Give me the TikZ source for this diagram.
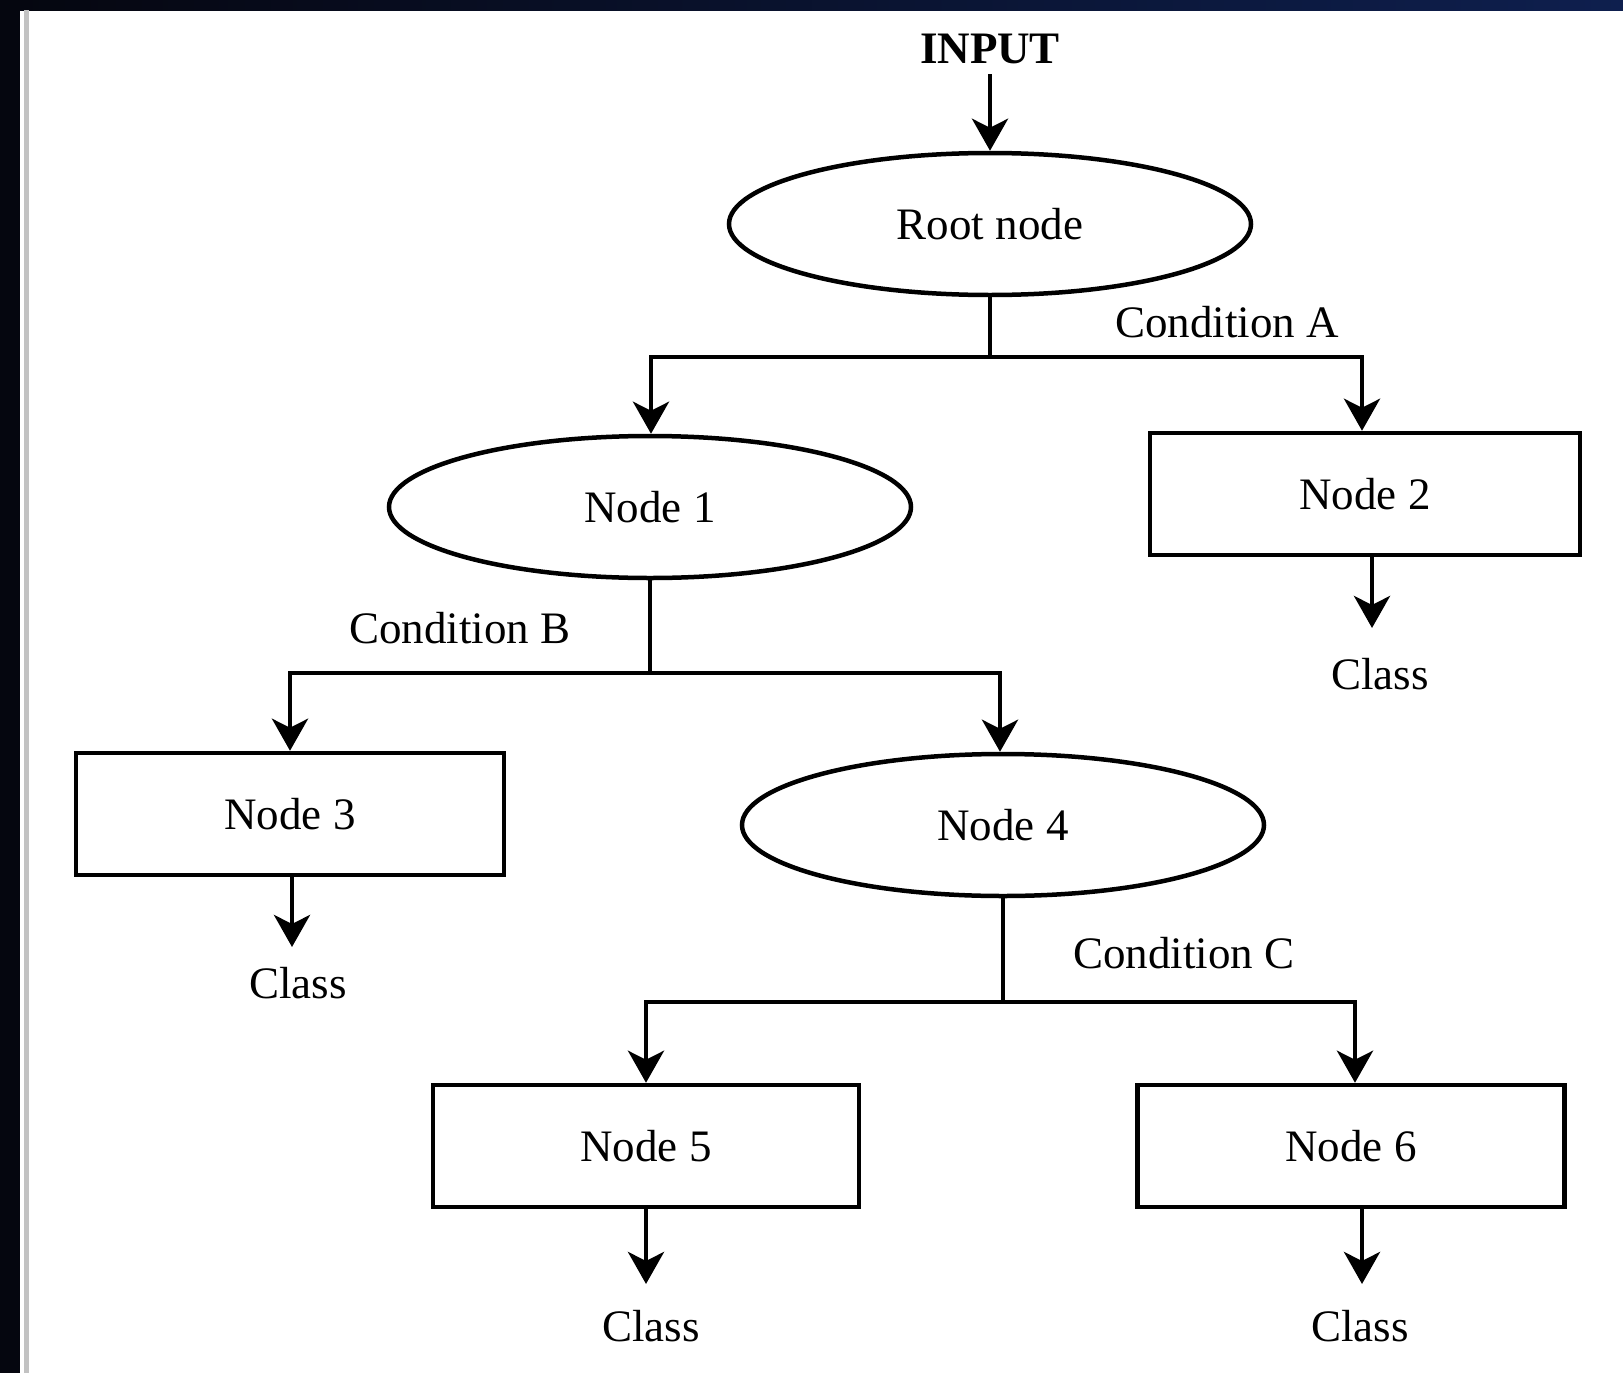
\documentclass[tikz,border=0pt]{standalone}
\usepackage{fontspec}
\setmainfont{Liberation Serif}
\usetikzlibrary{shapes.geometric,arrows.meta}
\definecolor{bandL}{HTML}{05060F}
\definecolor{bandR}{HTML}{0E1F4E}
\begin{document}
\begin{tikzpicture}[x=1pt,y=-1pt,
  every node/.style={font=\fontsize{45}{50}\selectfont, inner sep=0pt},
  oval/.style={draw, ellipse, line width=4.5pt, minimum width=522pt, minimum height=142pt},
  boxnode/.style={draw, rectangle, line width=4.5pt, minimum width=428pt, minimum height=122pt},
  conn/.style={line width=4.5pt},
  arr/.style={line width=4.5pt, -{Stealth[length=32pt,width=36pt,inset=9pt]}}
]
\useasboundingbox (0,0) rectangle (1623,1373);
% background and frame
\fill[white] (0,0) rectangle (1623,1373);
\shade[left color=bandL, right color=bandR] (0,0) rectangle (1623,10);
\fill[bandL] (0,0) rectangle (20,1373);
\fill[black!24] (24,10) rectangle (29,1373);

% nodes
\node[font=\bfseries\fontsize{45}{50}\selectfont] (inp) at (990,49) {INPUT};
\node[oval] (root) at (990,224) {Root node};
\node[oval] (n1) at (650,507) {Node 1};
\node[boxnode, minimum width=430pt] (n2) at (1365,494) {Node 2};
\node[boxnode] (n3) at (290,814) {Node 3};
\node[oval] (n4) at (1003,825) {Node 4};
\node[boxnode, minimum width=426pt] (n5) at (646,1146) {Node 5};
\node[boxnode, minimum width=427pt] (n6) at (1351,1146) {Node 6};

\node (c2) at (1380,674) {Class};
\node (c3) at (298,983) {Class};
\node (c5) at (651,1326) {Class};
\node (c6) at (1360,1326) {Class};

\node (ca) at (1227,322) {Condition A};
\node (cb) at (460,628) {Condition B};
\node (cc) at (1184,953) {Condition C};

% junctions
\coordinate (jA) at (root.south |- 0,357);
\coordinate (jB) at (n1.south |- 0,673);
\coordinate (jC) at (n4.south |- 0,1002);

% connectors
\draw[arr] (inp.south) ++(0,10) -- (root.north);
\draw[conn] (root.south) -- (jA);
\draw[arr] (jA) -| ([xshift=1pt]n1.north);
\draw[arr] (jA) -| ([xshift=-3pt]n2.north);
\draw[conn] (n1.south) -- (jB);
\draw[arr] (jB) -| (n3.north);
\draw[arr] (jB) -| ([xshift=-3pt]n4.north);
\draw[conn] (n4.south) -- (jC);
\draw[arr] (jC) -| (n5.north);
\draw[arr] (jC) -| ([xshift=4pt]n6.north);

\draw[arr, shorten >=30pt] ([xshift=7pt]n2.south) -- ([xshift=7pt]n2.south |- c2.north);
\draw[arr, shorten >=20pt] ([xshift=2pt]n3.south) -- ([xshift=2pt]n3.south |- c3.north);
\draw[arr, shorten >=26pt] (n5.south) -- (n5.south |- c5.north);
\draw[arr, shorten >=26pt] ([xshift=11pt]n6.south) -- ([xshift=11pt]n6.south |- c6.north);
\end{tikzpicture}
\end{document}
